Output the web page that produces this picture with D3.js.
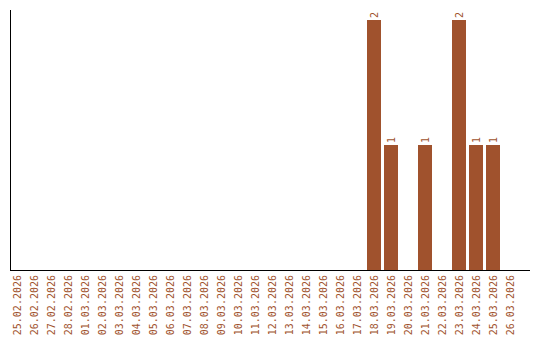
<!DOCTYPE html>
<html>
<head>
<meta charset="utf-8">
<script src="https://cdn.jsdelivr.net/npm/d3@7"></script>
<style>
  html, body { margin: 0; padding: 0; background: #fff; }
  svg text { font-family: "DejaVu Sans Mono", "Liberation Mono", monospace; }
</style>
</head>
<body>
<svg id="chart" width="540" height="340"></svg>
<script>
const dates = [
  '25.02.2026', '26.02.2026', '27.02.2026', '28.02.2026', '01.03.2026',
  '02.03.2026', '03.03.2026', '04.03.2026', '05.03.2026', '06.03.2026',
  '07.03.2026', '08.03.2026', '09.03.2026', '10.03.2026', '11.03.2026',
  '12.03.2026', '13.03.2026', '14.03.2026', '15.03.2026', '16.03.2026',
  '17.03.2026', '18.03.2026', '19.03.2026', '20.03.2026', '21.03.2026',
  '22.03.2026', '23.03.2026', '24.03.2026', '25.03.2026', '26.03.2026'
];
const counts = [
  0, 0, 0, 0, 0,
  0, 0, 0, 0, 0,
  0, 0, 0, 0, 0,
  0, 0, 0, 0, 0,
  0, 2, 1, 0, 1,
  0, 2, 1, 1, 0
];

const color = '#a0522d';
const margin = {top: 10, left: 10, bottom: 70, right: 10};
const width = 540, height = 340;
const baseY = height - margin.bottom;

const data = dates.map((d, i) => ({date: d, value: counts[i]}));

// 17px per day, 14px bars
const x = d3.scaleBand()
  .domain(dates)
  .range([margin.left, margin.left + dates.length * 17 - 3])
  .paddingInner(3 / 17)
  .paddingOuter(0);

const y = d3.scaleLinear()
  .domain([0, d3.max(counts)])
  .range([baseY, 20]);

const svg = d3.select('#chart');

// bars
svg.append('g')
  .selectAll('rect')
  .data(data.filter(d => d.value > 0))
  .enter().append('rect')
  .attr('x', d => x(d.date))
  .attr('y', d => y(d.value))
  .attr('width', x.bandwidth())
  .attr('height', d => baseY - y(d.value))
  .attr('fill', color);

// value labels
svg.append('g')
  .selectAll('text')
  .data(data.filter(d => d.value > 0))
  .enter().append('text')
  .attr('transform', d => 'translate(' + (x(d.date) + x.bandwidth() / 2 + 3.5) + ',' + (y(d.value) - 2) + ') rotate(-90)')
  .attr('font-size', 10)
  .attr('fill', color)
  .attr('text-anchor', 'start')
  .text(d => d.value);

// axes (lines only)
svg.append('line')
  .attr('x1', margin.left + 0.5).attr('x2', margin.left + 0.5)
  .attr('y1', margin.top).attr('y2', baseY)
  .attr('stroke', '#000');

svg.append('line')
  .attr('x1', margin.left).attr('x2', width - margin.right)
  .attr('y1', baseY + 0.5).attr('y2', baseY + 0.5)
  .attr('stroke', '#000');

// date labels
svg.append('g')
  .selectAll('text')
  .data(dates)
  .enter().append('text')
  .attr('transform', d => 'translate(' + (x(d) + x.bandwidth() / 2 + 3.5) + ',' + (baseY + 5) + ') rotate(-90)')
  .attr('font-size', 10)
  .attr('fill', color)
  .attr('text-anchor', 'end')
  .text(d => d);
</script>
</body>
</html>
